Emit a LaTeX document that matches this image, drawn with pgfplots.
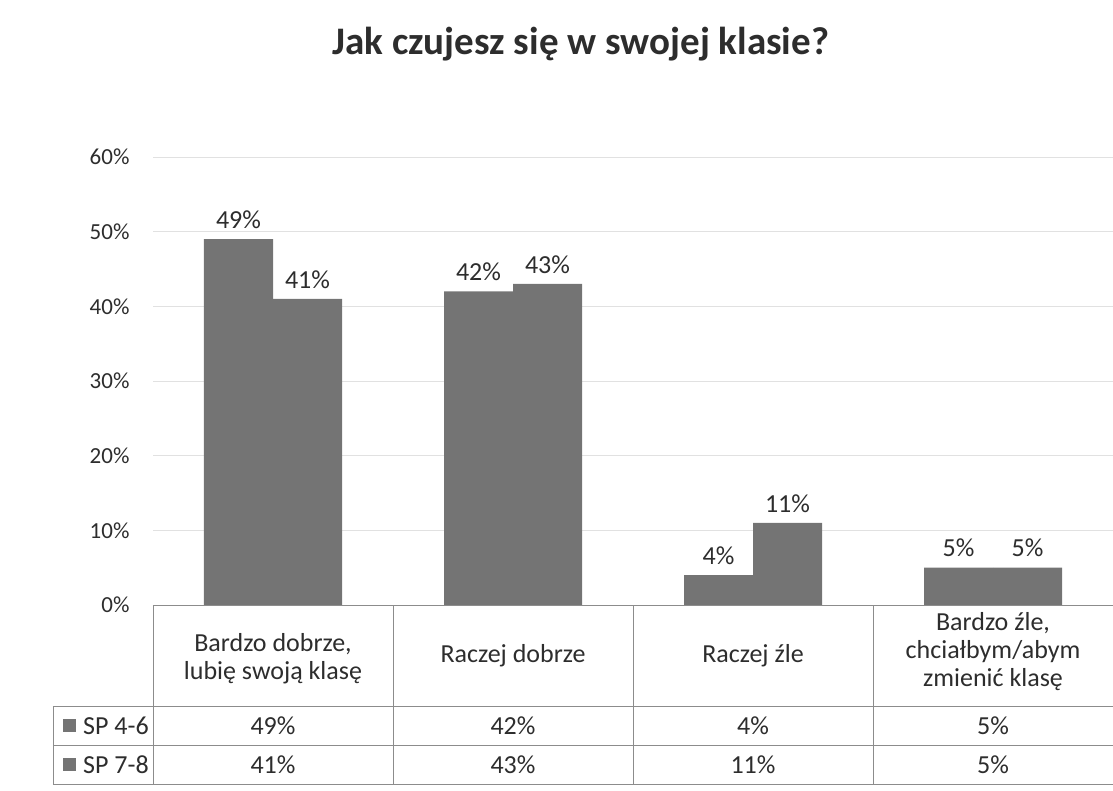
\documentclass[border=0pt]{standalone}
\usepackage{pgfplots}
\pgfplotsset{compat=1.18}
\usepackage{fontspec}
\setmainfont{Carlito}
\definecolor{bargray}{RGB}{116,116,116}
\definecolor{txt}{RGB}{45,45,45}
\definecolor{gridc}{RGB}{225,225,225}
\definecolor{tline}{RGB}{140,140,140}
\newcommand{\fs}{\fontsize{26}{28}\selectfont}
\newcommand{\ft}{\fontsize{23}{26}\selectfont}
\begin{document}
\begin{tikzpicture}[x=1pt,y=1pt]
\useasboundingbox (-153,-185) rectangle (960,605);
\begin{axis}[at={(0,0)}, anchor=south west, scale only axis,
  width=960pt, height=448pt,
  ymin=0, ymax=60, xmin=-0.5, xmax=3.5,
  ybar=0pt, bar width=69pt,
  axis line style={draw=none},
  xtick=\empty, ytick={0,10,...,60},
  ymajorgrids, major grid style={gridc, line width=1pt},
  major tick length=0pt,
  /pgf/number format/assume math mode=true,
  yticklabel={\pgfmathprintnumber{\tick}\%},
  yticklabel style={font=\ft, text=txt, xshift=-20pt},
  nodes near coords={\pgfmathprintnumber{\pgfplotspointmeta}\%},
  nodes near coords style={font=\fs, text=txt, yshift=7pt},
  clip=false,
]
\addplot[fill=bargray, draw=none] coordinates {(0,49) (1,42) (2,4) (3,5)};
\addplot[fill=bargray, draw=none] coordinates {(0,41) (1,43) (2,11) (3,5)};
\end{axis}
% title
\node[font=\fontsize{39}{44}\selectfont\bfseries, text=txt] at (428,561) {Jak czujesz się w swojej klasie?};
% data table
\draw[tline, line width=0.8pt] (0,0) -- (960,0);
\foreach \yy in {-101,-140,-179} {\draw[tline, line width=0.8pt] (-100,\yy) -- (960,\yy);}
\foreach \xx in {0,240,480,720} {\draw[tline, line width=0.8pt] (\xx,0) -- (\xx,-179);}
\draw[tline, line width=0.8pt] (-100,-101) -- (-100,-179);
\begin{scope}[every node/.style={font=\fs, text=txt, align=center}]
\node at (120,-54) {Bardzo dobrze,\\lubię swoją klasę};
\node at (360,-51) {Raczej dobrze};
\node at (600,-51) {Raczej źle};
\node at (840,-47) {Bardzo źle,\\chciałbym/abym\\zmienić klasę};
\node at (120,-120.5) {49\%};
\node at (360,-120.5) {42\%};
\node at (600,-120.5) {4\%};
\node at (840,-120.5) {5\%};
\node at (120,-159.5) {41\%};
\node at (360,-159.5) {43\%};
\node at (600,-159.5) {11\%};
\node at (840,-159.5) {5\%};
\fill[bargray] (-90,-127) rectangle (-77,-114);
\node[anchor=west, inner sep=0pt] at (-70,-120.5) {SP 4-6};
\fill[bargray] (-90,-166) rectangle (-77,-153);
\node[anchor=west, inner sep=0pt] at (-70,-159.5) {SP 7-8};
\end{scope}
\end{tikzpicture}
\end{document}
